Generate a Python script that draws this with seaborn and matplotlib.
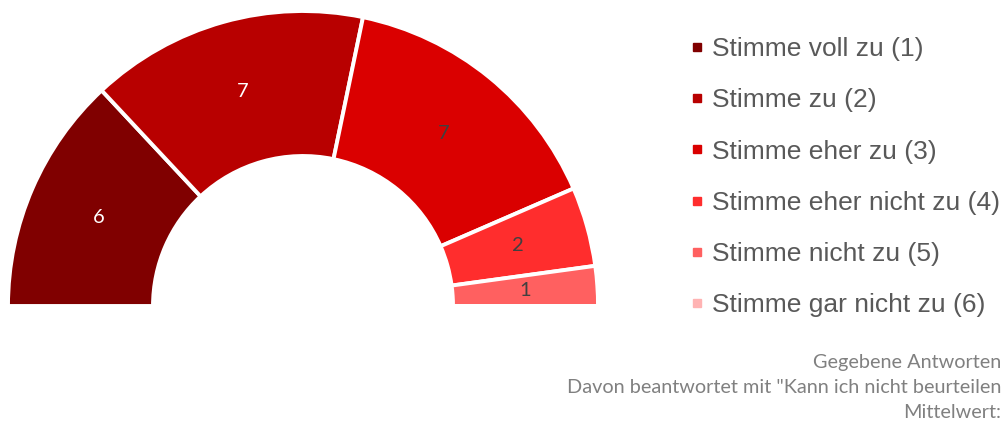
import matplotlib
matplotlib.use("Agg")
import matplotlib.pyplot as plt
import seaborn as sns
from matplotlib.lines import Line2D

# data
categories = ['Stimme voll zu (1)', 'Stimme zu (2)', 'Stimme eher zu (3)',
              'Stimme eher nicht zu (4)', 'Stimme nicht zu (5)', 'Stimme gar nicht zu (6)']
counts = [6, 7, 7, 2, 1, 0]
colors = ['#800000', '#B80000', '#DA0000', '#FF2D2D', '#FF6060', '#FFB3B3']
label_colors = ['white', 'white', '#404040', '#404040', '#404040', '#404040']
footer_lines = ['Gegebene Antworten',
                'Davon beantwortet mit "Kann ich nicht beurteilen',
                'Mittelwert:']

sns.set_theme(style="white")
plt.rcParams['font.family'] = ['Liberation Sans', 'DejaVu Sans']

fig = plt.figure(figsize=(10.03, 4.23), dpi=100)
ax = fig.add_axes([0, 0, 1, 1])

total = sum(counts)
# invisible lower half so the visible ring is a semicircle
values = counts + [total]
wedges, _, autotexts = ax.pie(
    values, colors=colors + ['white'], startangle=180, counterclock=False,
    radius=295, center=(303, 117),
    wedgeprops=dict(width=145, edgecolor='white', linewidth=2.8),
    autopct=lambda p: f"{p * 2 * total / 100:.0f}", pctdistance=0.755,
    textprops=dict(fontsize=14.5, family='Lato'))
wedges[-1].set_visible(False)
autotexts[-1].set_visible(False)
for t, v, c in zip(autotexts, counts, label_colors):
    t.set_color(c)
    if v == 0:
        t.set_visible(False)

ax.set_xlim(0, 1003)
ax.set_ylim(0, 423)
ax.set_aspect('equal')
ax.axis('off')

handles = [Line2D([], [], marker='s', linestyle='none', markersize=6,
                  markerfacecolor=c, markeredgecolor=c) for c in colors]
leg = fig.legend(handles, categories, loc='upper left', bbox_to_anchor=(0.679, 0.937),
                 frameon=False, fontsize=19, labelspacing=1.03, handlelength=0.44,
                 handletextpad=0.34, borderaxespad=0)
for t in leg.get_texts():
    t.set_color('#595959')

for i, line in enumerate(footer_lines):
    fig.text(0.998, 0.143 - i * 0.059, line, ha='right', va='center',
             fontsize=14.3, color='#808080', family='Lato')

fig.savefig('out.png', dpi=100)
